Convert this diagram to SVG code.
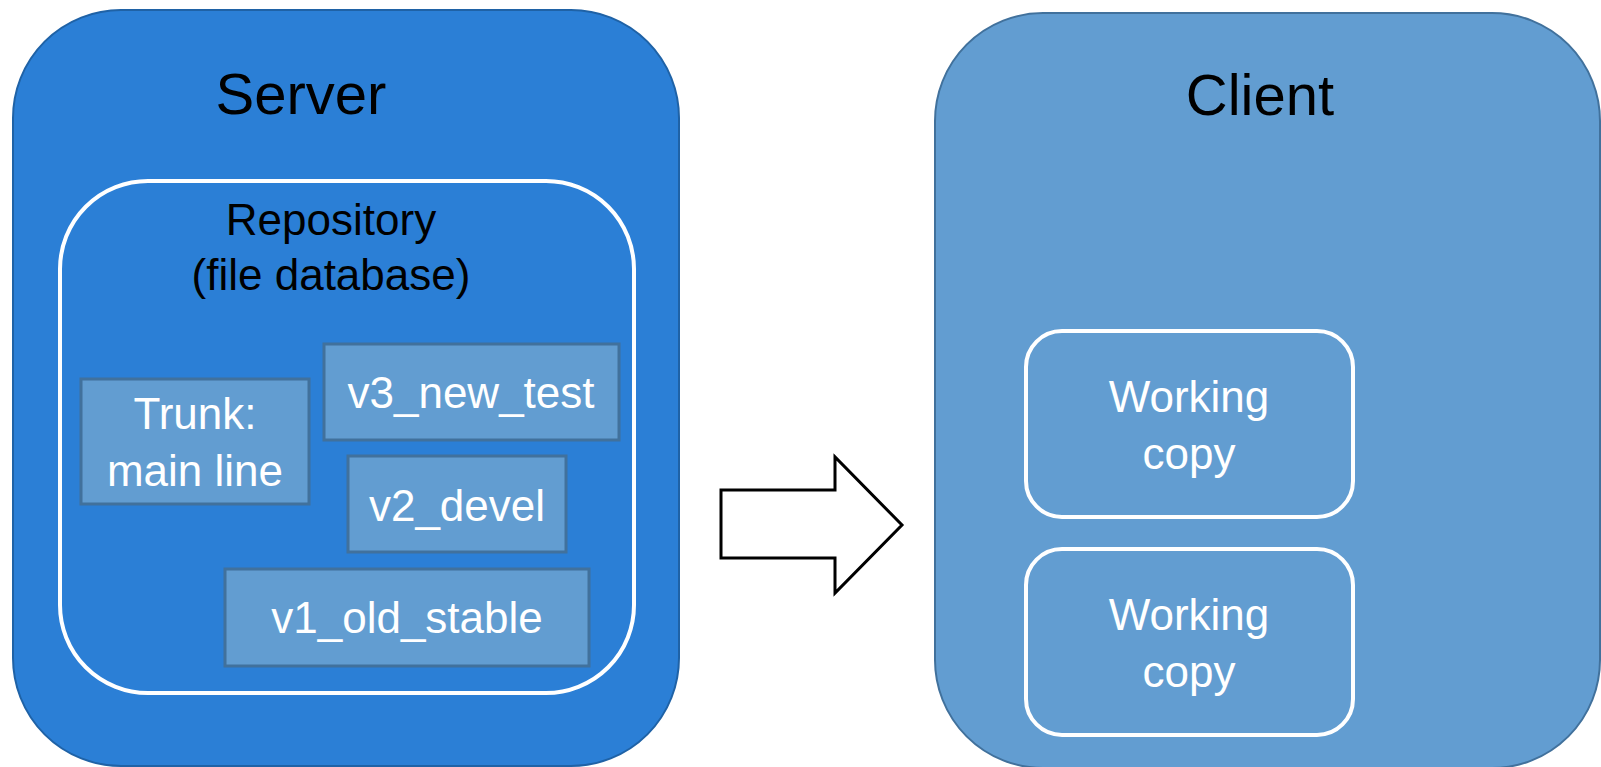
<svg xmlns="http://www.w3.org/2000/svg" width="1601" height="767" viewBox="0 0 1601 767">
  <style>
    .t { font-family: "Liberation Sans", Arial, sans-serif; text-anchor: middle; }
    .big { font-size: 58px; fill: #000; }
    .mid { font-size: 44px; fill: #000; }
    .lbl { font-size: 44px; fill: #fff; }
    .branch { fill: #629DD1; stroke: #41719C; stroke-width: 3; }
    .whitebox { fill: none; stroke: #fff; stroke-width: 4; }
  </style>

  <!-- Server -->
  <g id="server">
    <rect x="13" y="10" width="666" height="756" rx="108" ry="108" fill="#2B7FD6" stroke="#1F62A6" stroke-width="2"/>
    <text class="t big" x="301" y="114">Server</text>
  </g>

  <!-- Repository -->
  <g id="repository">
    <rect class="whitebox" x="60" y="181" width="574" height="512" rx="88" ry="88"/>
    <text class="t mid" x="331" y="235">Repository</text>
    <text class="t mid" x="331" y="290">(file database)</text>
  </g>

  <!-- Branches -->
  <g id="trunk">
    <rect class="branch" x="81" y="379" width="228" height="125"/>
    <text class="t lbl" x="195" y="429">Trunk:</text>
    <text class="t lbl" x="195" y="486">main line</text>
  </g>
  <g id="v3_new_test">
    <rect class="branch" x="324" y="344" width="295" height="96"/>
    <text class="t lbl" x="471" y="408">v3_new_test</text>
  </g>
  <g id="v2_devel">
    <rect class="branch" x="348" y="456" width="218" height="96"/>
    <text class="t lbl" x="457" y="521">v2_devel</text>
  </g>
  <g id="v1_old_stable">
    <rect class="branch" x="225" y="569" width="364" height="97"/>
    <text class="t lbl" x="407" y="633">v1_old_stable</text>
  </g>

  <!-- Client -->
  <g id="client">
    <rect x="935" y="13" width="665" height="755" rx="108" ry="108" fill="#629DD1" stroke="#41719C" stroke-width="2"/>
    <text class="t big" x="1260" y="115">Client</text>
  </g>

  <!-- Working copies -->
  <g id="working_copy_1">
    <rect class="whitebox" x="1026" y="331" width="327" height="186" rx="36" ry="36"/>
    <text class="t lbl" x="1189" y="412">Working</text>
    <text class="t lbl" x="1189" y="469">copy</text>
  </g>
  <g id="working_copy_2">
    <rect class="whitebox" x="1026" y="549" width="327" height="186" rx="36" ry="36"/>
    <text class="t lbl" x="1189" y="630">Working</text>
    <text class="t lbl" x="1189" y="687">copy</text>
  </g>

  <!-- Connectors -->
  <g id="connectors">
    <polygon points="721,490 835,490 835,457 902,525 835,593 835,558 721,558" fill="#fff" stroke="#000" stroke-width="3" stroke-linejoin="miter"/>
  </g>
</svg>
